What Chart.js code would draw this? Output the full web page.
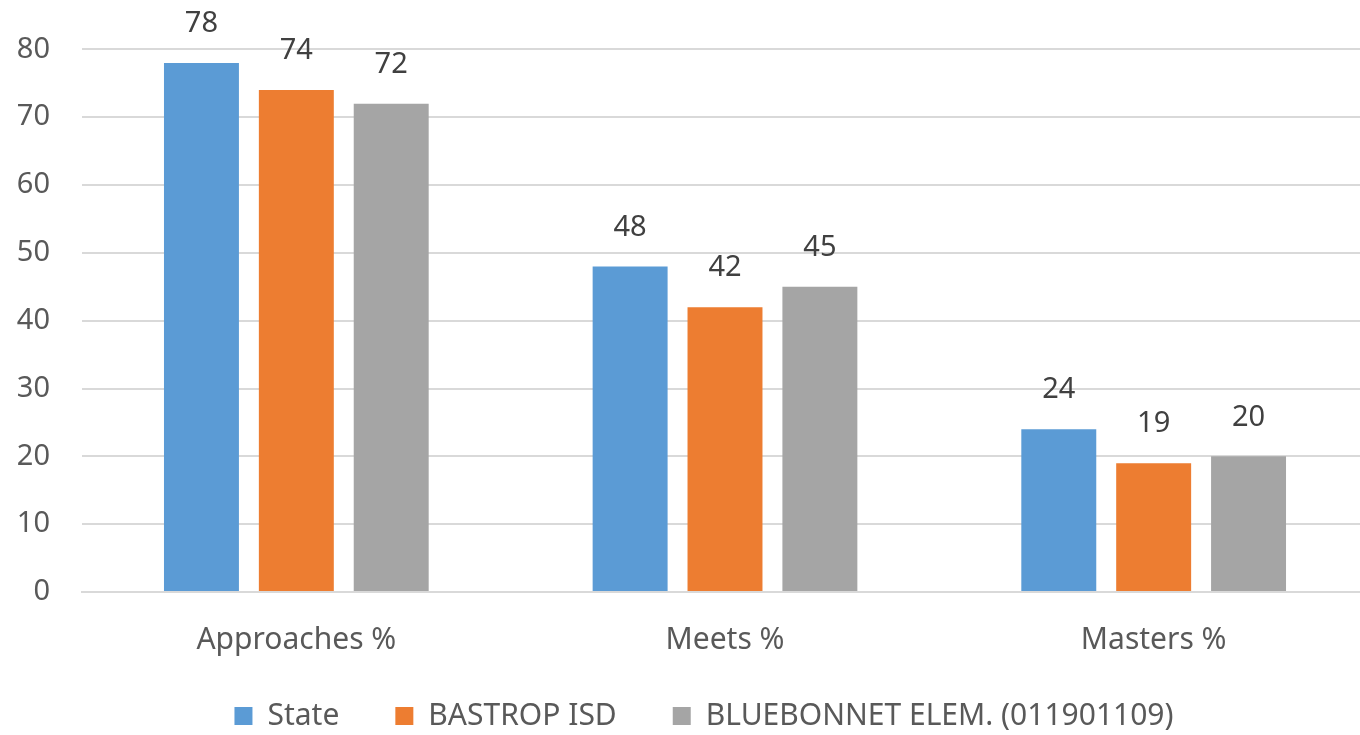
<!DOCTYPE html>
<html>
<head>
<meta charset="utf-8">
<script src="https://cdn.jsdelivr.net/npm/chart.js@4"></script>
<style>
    body { margin: 0; overflow: hidden; background: #fff; }
    #wrap { width: 1370px; height: 735px; }
</style>
</head>
<body>
<div id="wrap"><canvas id="chart"></canvas></div>
<script>
const categories = ['Approaches %', 'Meets %', 'Masters %'];
const stateValues = [78, 48, 24];
const districtValues = [74, 42, 19];
const campusValues = [72, 45, 20];
const seriesNames = ['State', 'BASTROP ISD', 'BLUEBONNET ELEM. (011901109)'];
const yTicks = [0, 10, 20, 30, 40, 50, 60, 70, 80];

const FONT = "'Noto Sans', sans-serif";

// value labels above each bar
const barLabels = {
    id: 'barLabels',
    afterDatasetsDraw(chart) {
        const ctx = chart.ctx;
        ctx.save();
        ctx.font = '29px ' + FONT;
        ctx.fillStyle = '#404040';
        ctx.textAlign = 'center';
        ctx.textBaseline = 'middle';
        chart.data.datasets.forEach((ds, i) => {
            chart.getDatasetMeta(i).data.forEach((bar, j) => {
                ctx.fillText(ds.data[j], bar.x, bar.y - 39);
            });
        });
        ctx.restore();
    }
};

// put the legend row where the original had it
const legendShift = {
    id: 'legendShift',
    beforeDraw(chart) {
        const lg = chart.legend;
        lg.left = 38;
        lg.right = 1370;
        lg.top = 716 - 56 - 15;
    }
};

new Chart(document.getElementById('chart').getContext('2d'), {
    type: 'bar',
    data: {
        labels: categories,
        datasets: [
            { label: seriesNames[0], data: stateValues, backgroundColor: '#5B9BD5' },
            { label: seriesNames[1], data: districtValues, backgroundColor: '#ED7D31' },
            { label: seriesNames[2], data: campusValues, backgroundColor: '#A5A5A5' }
        ]
    },
    options: {
        responsive: true,
        maintainAspectRatio: false,
        animation: false,
        categoryPercentage: 0.664,
        barPercentage: 0.79,
        layout: { padding: { top: 48, right: 2, bottom: 0, left: 0 } },
        scales: {
            x: {
                grid: { display: false, drawTicks: false },
                border: { color: '#D9D9D9', width: 2 },
                ticks: { color: '#595959', font: { family: FONT, size: 30 }, padding: 30 },
                afterFit(scale) { scale.height = 66; }
            },
            y: {
                min: 0,
                max: 80,
                afterBuildTicks(scale) { scale.ticks = yTicks.map(v => ({ value: v })); },
                grid: { color: '#D9D9D9', lineWidth: 2, drawTicks: false },
                border: { display: false },
                ticks: { color: '#595959', font: { family: FONT, size: 29 }, padding: 32 },
                afterFit(scale) { scale.width = 82; }
            }
        },
        plugins: {
            tooltip: { enabled: false },
            legend: {
                position: 'bottom',
                maxHeight: 77,
                labels: {
                    boxWidth: 18,
                    boxHeight: 18,
                    padding: 56,
                    color: '#595959',
                    font: { family: FONT, size: 30 }
                }
            }
        }
    },
    plugins: [barLabels, legendShift]
});
</script>
</body>
</html>
